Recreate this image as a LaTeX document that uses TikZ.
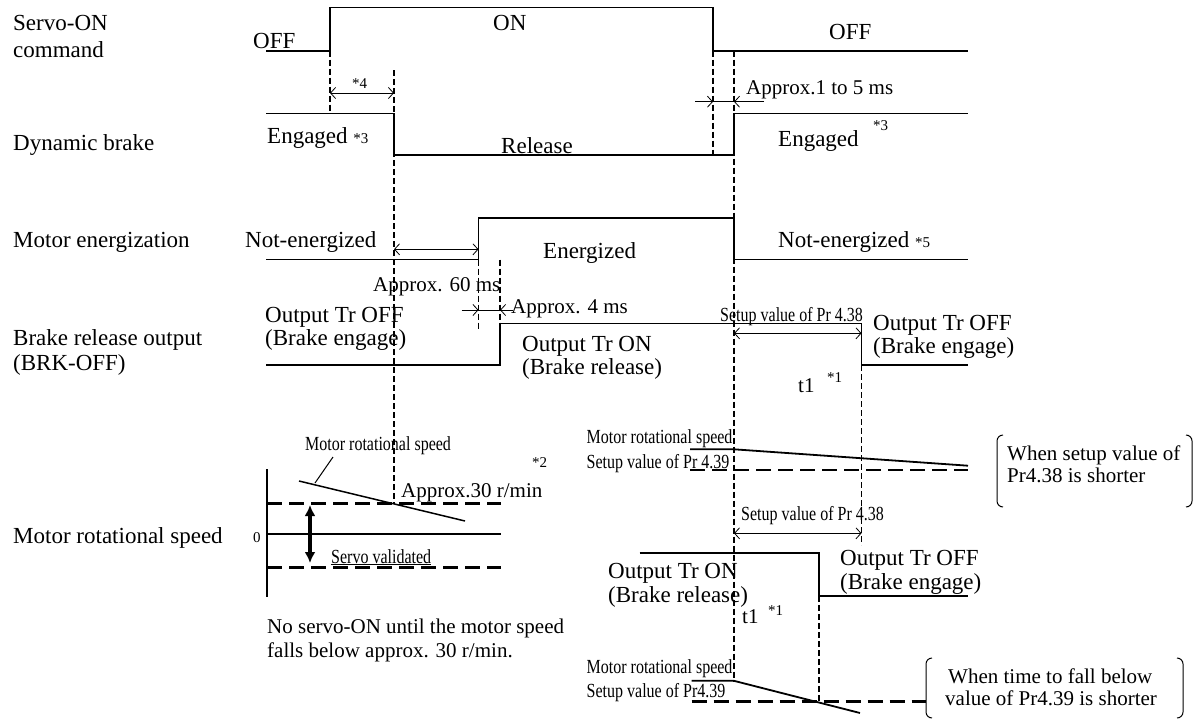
\documentclass[tikz,border=0pt]{standalone}
\usepackage{fontspec}
\setmainfont{Liberation Serif}
\usetikzlibrary{arrows.meta}
\newcommand{\slim}[1]{\scalebox{0.8}[1]{#1}}
\tikzset{
  wave/.style={line width=1.8pt},
  guide/.style={line width=1.8pt, dash pattern=on 6pt off 3pt},
  level/.style={line width=2.6pt, dash pattern=on 15pt off 7pt},
  dim/.style={line width=0.8pt, {Straight Barb[length=5pt,width=11pt]}-{Straight Barb[length=5pt,width=11pt]}},
  dimto/.style={line width=0.8pt, -{Straight Barb[length=5pt,width=11pt]}},
  txt/.style={inner sep=0pt, anchor=base west, font=\fontsize{23}{26}\selectfont},
  note/.style={txt, font=\fontsize{21}{24}\selectfont},
  footmark/.style={txt, font=\fontsize{15}{17}\selectfont},
  sml/.style={txt, font=\fontsize{20}{22}\selectfont}
}
\begin{document}
\begin{tikzpicture}[x=1pt,y=-1pt]
\useasboundingbox (0,0) rectangle (1199,720);

% signal names
\node[txt] (servo1) at (13,30) {Servo-ON};
\node[txt] (servo2) at (13,57) {command};
\node[txt] (dbk)    at (13,150) {Dynamic brake};
\node[txt] (meng)   at (13,247) {Motor energization};
\node[txt] (brk1)   at (13,345) {Brake release output};
\node[txt] (brk2)   at (13,370) {(BRK-OFF)};
\node[txt] (spd)    at (13,543) {Motor rotational speed};

% timing guides
\draw[guide] (330,50.7) -- (330,113.5);
\draw[guide] (394,70) -- (394,503.5);
\draw[guide] (713,50.7) -- (713,155);
\draw[guide] (734,50.7) -- (734,681);
\draw[guide] (478.5,259.5) -- (478.5,330);
\draw[guide] (500,259.5) -- (500,323.5);
\draw[guide] (861.5,365) -- (861.5,545);
\draw[guide] (819.3,596) -- (819.3,701.7);

% Servo-ON command
\draw[wave] (266,50.7) -- (330,50.7) -- (330,7.5) -- (713,7.5) -- (713,50.7) -- (968,50.7);
\node[txt] (off1) at (253,48) {OFF};
\node[txt] (on1)  at (493,30) {ON};
\node[txt] (off2) at (829,39) {OFF};

% Dynamic brake
\draw[wave] (266,113.5) -- (394,113.5) -- (394,155) -- (734,155) -- (734,113.5) -- (968,113.5);
\node[txt] (eng1) at (267,143) {Engaged \fontsize{15}{17}\selectfont*3};
\node[txt] (rel)  at (501,153) {Release};
\node[txt] (eng2) at (778,146) {Engaged};
\node[footmark] (eng2n) at (873,130) {*3};
\draw[dim] (330,93) -- (394,93);
\node[footmark] (n4) at (352,88) {*4};
\draw[dimto] (695,101.7) -- (713,101.7);
\draw[line width=0.8pt] (713,101.7) -- (734,101.7);
\draw[dimto] (764,101.7) -- (734,101.7);
\node[note] (t15) at (746,94) {Approx.1 to 5 ms};

% Motor energization
\draw[wave] (266,259.5) -- (478.5,259.5) -- (478.5,218) -- (734,218) -- (734,259.5) -- (968,259.5);
\node[txt] (ne1) at (245,247) {Not-energized};
\node[txt] (en)  at (543,258) {Energized};
\node[txt] (ne2) at (778,247) {Not-energized \fontsize{15}{17}\selectfont*5};
\draw[dim] (394,249.3) -- (478.5,249.3);
\node[note] (t60) at (373,291) {Approx. 60 ms};

% Brake release output
\draw[wave] (266,365) -- (500,365) -- (500,323.5) -- (861.5,323.5) -- (861.5,365) -- (968,365);
\draw[dimto] (461.7,310) -- (478.5,310);
\draw[line width=0.8pt] (478.5,310) -- (500,310);
\draw[dimto] (513,310) -- (500,310);
\node[note] (t4) at (511,313) {Approx. 4 ms};
\node[txt] (troff1) at (265,322) {Output Tr OFF};
\node[txt] (be1)    at (265,345) {(Brake engage)};
\node[txt] (tron1)  at (522,351) {Output Tr ON};
\node[txt] (br1)    at (522,374) {(Brake release)};
\node[txt] (troff2) at (873,330) {Output Tr OFF};
\node[txt] (be2)    at (873,353) {(Brake engage)};
\draw[dim] (734,333.3) -- (861.5,333.3);
\node[sml] (pr38a) at (720,321) {\slim{Setup value of Pr 4.38}};
\node[note] (t1a) at (798,392) {t1};
\node[footmark] (t1an) at (827,382) {*1};

% speed, setup value of Pr 4.38 shorter
\draw[wave] (690,449.3) -- (734,449.3) -- (968,465.7);
\draw[level] (690,470) -- (968,470);
\node[sml] (msa)  at (586.5,443) {\slim{Motor rotational speed}};
\node[sml] (pr39a) at (586.5,468) {\slim{Setup value of Pr 4.39}};
\draw[line width=1pt, rounded corners=6pt] (1003,435) -- (997,435) -- (997,507) -- (1003,507);
\draw[line width=1pt, rounded corners=6pt] (1186,435) -- (1192,435) -- (1192,507) -- (1186,507);
\node[note] (case1a) at (1007,460) {When setup value of};
\node[note] (case1b) at (1007,482) {Pr4.38 is shorter};

% motor rotational speed, servo-ON check
\draw[wave] (267,469) -- (267,597);
\draw[level] (267,503.5) -- (501,503.5);
\draw[line width=1.5pt] (267,534) -- (501,534);
\draw[level] (267,567.3) -- (501,567.3);
\draw[line width=1.5pt] (299,481) -- (465,521);
\draw[line width=1pt] (333,457) -- (315,483);
\draw[line width=3.2pt, {Latex[length=11pt,width=11pt]}-{Latex[length=11pt,width=11pt]}] (310,505) -- (310,563);
\node[sml] (msl) at (305,450) {\slim{Motor rotational speed}};
\node[footmark] (n2) at (532,467) {*2};
\node[note] (t30) at (401,497) {Approx.30 r/min};
\node[footmark] (zero) at (253,542) {0};
\node[sml] (sv) at (331,563) {\slim{\underline{Servo validated}}};
\node[note] (nos1) at (267,633) {No servo-ON until the motor speed};
\node[note] (nos2) at (267,657) {falls below approx. 30 r/min.};

% time to fall below Pr 4.39 shorter
\draw[dim] (734,533.3) -- (861.5,533.3);
\node[sml] (pr38b) at (741,520) {\slim{Setup value of Pr 4.38}};
\draw[wave] (639.5,553.3) -- (819.3,553.3) -- (819.3,596) -- (968,596);
\node[txt] (tron2)  at (608,578) {Output Tr ON};
\node[txt] (br2)    at (608,602) {(Brake release)};
\node[txt] (troff3) at (840,565) {Output Tr OFF};
\node[txt] (be3)    at (840,589) {(Brake engage)};
\node[note] (t1b) at (742,623) {t1};
\node[footmark] (t1bn) at (768,615) {*1};
\draw[wave] (691.7,680.7) -- (733.5,680.7) -- (860,713);
\draw[level] (691.7,701.7) -- (926,701.7);
\node[sml] (msb)  at (586.5,673) {\slim{Motor rotational speed}};
\node[sml] (pr39b) at (586.5,697) {\slim{Setup value of Pr4.39}};
\draw[line width=1pt, rounded corners=6pt] (932,658) -- (926,658) -- (926,718) -- (932,718);
\draw[line width=1pt, rounded corners=6pt] (1177,658) -- (1183,658) -- (1183,718) -- (1177,718);
\node[note] (case2a) at (948,683) {When time to fall below};
\node[note] (case2b) at (945,705) {value of Pr4.39 is shorter};
\end{tikzpicture}
\end{document}
